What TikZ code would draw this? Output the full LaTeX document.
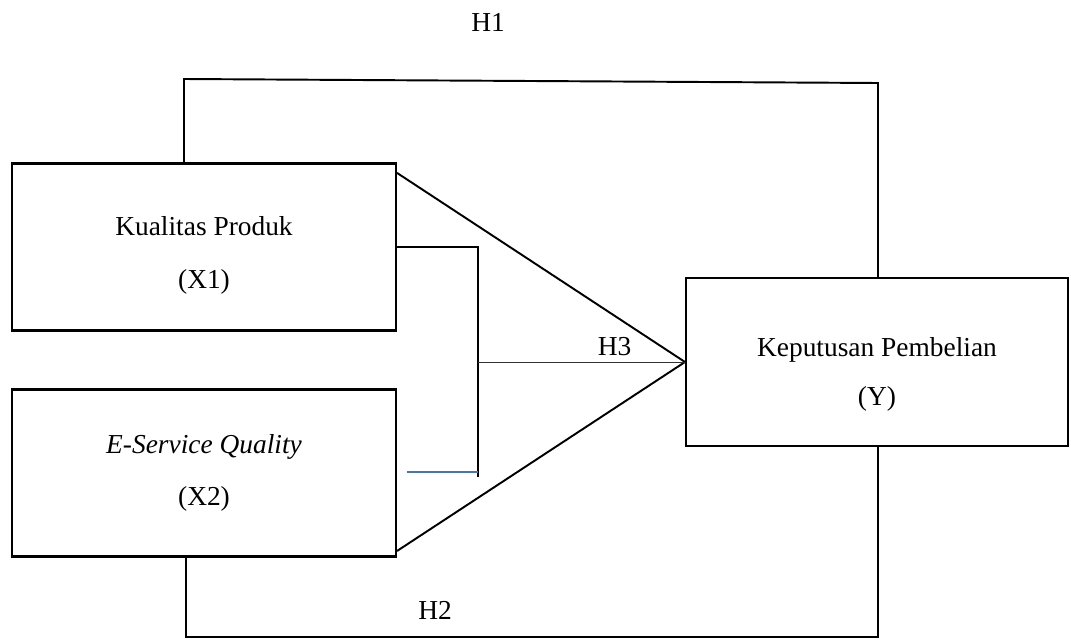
\documentclass[tikz,border=0pt]{standalone}
\usepackage{fontspec}
\setmainfont{Liberation Serif}
\usetikzlibrary{positioning}
\newcommand{\topgap}[1]{\rule{0pt}{#1}}
\tikzstyle{varbox} = [rectangle,
                    minimum width=7.68cm,
                    minimum height=3.34cm,
                    align = center,
                    draw=black,
                    line width=1.2pt]
\tikzstyle{model} = [x=0.02cm,
                    y=-0.02cm,
                    line width=1.1pt,
                    font=\fontsize{15.6}{18}\selectfont]
\tikzstyle{hline} = [line width=0.5pt, draw=black!80]
\tikzstyle{blueline} = [line width=0.9pt, draw={rgb,255:red,68;green,114;blue,196}]

\begin{document}
\begin{tikzpicture}[model]
    \useasboundingbox (0,0) rectangle (1071,639);
    \node (x1) at (204,247) [varbox] {\topgap{20pt}Kualitas Produk\\[12pt](X1)};
    \node (x2) at (204,473) [varbox] {\textit{E-Service Quality}\\[12pt](X2)};
    \node (y) at (877,362) [varbox, minimum width=7.64cm, minimum height=3.36cm] {\topgap{25pt}Keputusan Pembelian\\[10pt](Y)};
    \coordinate (h1a) at (184,79);
    \coordinate (h1b) at (878,83);
    \coordinate (h2a) at (186,637);
    \coordinate (h2b) at (878,637);
    \coordinate (jt) at (478,247);
    \coordinate (jb) at (478,477);
    \coordinate (bl) at (407,472);
    \node (h1) at (488,22) {H1};
    \node (h2) at (435,610) {H2};
    \draw (x1.north -| h1a) -- (h1a) -- (h1b) -- (h1b |- y.north);
    \draw (x2.south -| h2a) -- (h2a) -- (h2b) -- (h2b |- y.south);
    \draw (x1.21) -- (y.west);
    \draw (x2.-22) -- (y.west);
    \draw (x1.east) -- (jt) -- (jb);
    \draw[blueline] (bl) -- (bl -| jt);
    \draw[hline] (jt |- y.west) -- (y.west) node [above, pos=0.66] {H3};
  \end{tikzpicture}
\end{document}
